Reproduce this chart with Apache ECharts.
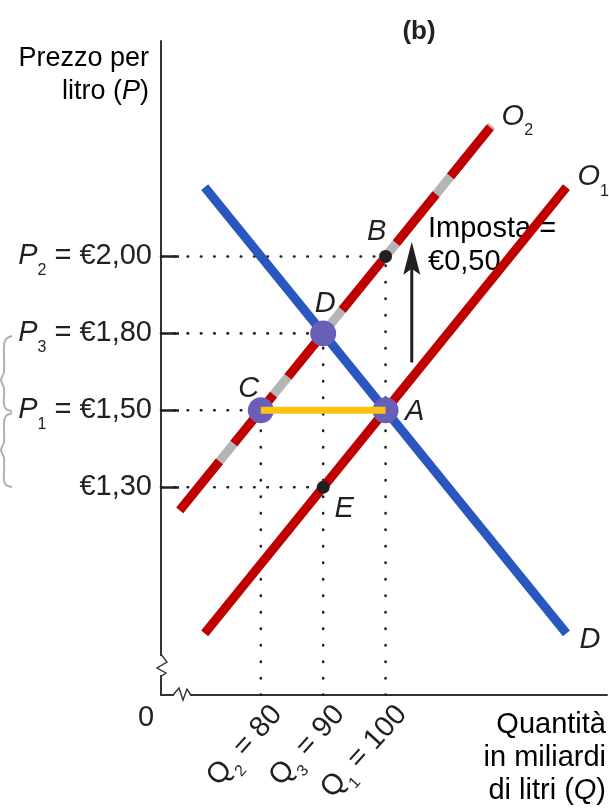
<!DOCTYPE html>
<html>
<head>
<meta charset="utf-8">
<script src="https://cdn.jsdelivr.net/npm/echarts@6/dist/echarts.min.js"></script>
<style>
  html, body { margin: 0; padding: 0; background: #fff; }
  #chart { width: 609px; height: 808px; }
</style>
</head>
<body>
<div id="chart"></div>
<script>
var FONT = '"Liberation Sans", Arial, sans-serif';
var FS = 29;

// quantità sull'asse x (miliardi di litri)
var qTicks = [80, 90, 100];
var qSubs = ['2', '3', '1'];

// il grafico non è in scala: ogni prezzo è un gradino sull'asse y
var priceLevels = [1, 2, 3, 4];
var priceSubs = ['', '1', '3', '2'];
var priceTexts = ['€1,30', '€1,50', '€1,80', '€2,00'];

// curve (quantità, gradino di prezzo)
var demandQ = [71, 129];
var demandP = [4.9, -0.9];
var supply1Q = [71, 129];
var supply1P = [-0.9, 4.9];
var supply2Q = [67, 117];
var supply2P = [0.7, 5.7];

// punti di equilibrio
var pointNames = ['A', 'B', 'C', 'D', 'E'];
var pointQ = [100, 100, 80, 90, 90];
var pointP = [2, 4, 2, 3, 1];

// freccia dell'imposta
var taxQ = [104.2, 104.2];
var taxP = [2.62, 4.19];

// linee punteggiate di riferimento
var hGuides = ['B', 'D', 'A', 'E'];
var vGuides = ['B', 'D', 'C'];

var X_MIN = 64, X_MAX = 135.5, Y_MIN = -1.7, Y_MAX = 6.8;

var pointStyle = {
    A: { big: true, offset: [29, 2] },
    B: { big: false, offset: [-9, -24] },
    C: { big: true, offset: [-12, -21] },
    D: { big: true, offset: [2, -29] },
    E: { big: false, offset: [21, 22] }
};

var chart = echarts.init(document.getElementById('chart'));

function pt(name) {
    var i = pointNames.indexOf(name);
    return [pointQ[i], pointP[i]];
}
function pairs(xs, ys) {
    return xs.map(function (x, i) { return [x, ys[i]]; });
}

var textColor = '#231f20';
var rich = {
    it: { fontFamily: FONT, fontSize: FS, fontStyle: 'italic', color: textColor },
    up: { fontFamily: FONT, fontSize: FS, color: textColor },
    sub: { fontFamily: FONT, fontSize: 16, color: textColor, padding: [28, 0, 0, 0] }
};

var series = [];

// linee di riferimento punteggiate
var dotStyle = { color: textColor, width: 2.6, cap: 'round' };
hGuides.forEach(function (n) {
    var p = pt(n);
    series.push({
        type: 'line', silent: true, showSymbol: false, z: 1,
        lineStyle: Object.assign({ type: [0.5, 12.8] }, dotStyle),
        data: [[X_MIN, p[1]], p]
    });
});
vGuides.forEach(function (n) {
    var p = pt(n);
    series.push({
        type: 'line', silent: true, showSymbol: false, z: 1,
        lineStyle: Object.assign({ type: [0.5, 16] }, dotStyle),
        data: [[p[0], Y_MIN], p]
    });
});

// domanda
series.push({
    type: 'line', showSymbol: false, z: 3,
    lineStyle: { color: '#2a56c0', width: 9 },
    data: pairs(demandQ, demandP),
    endLabel: { show: true, distance: 0, offset: [13, 6], formatter: '{it|D}', rich: rich }
});
// offerta O2: fondo grigio + rosso tratteggiato
series.push({
    type: 'line', showSymbol: false, z: 4,
    lineStyle: { color: '#b5b5b5', width: 9 },
    data: pairs(supply2Q, supply2P)
});
series.push({
    type: 'line', showSymbol: false, z: 4,
    lineStyle: { color: '#c00000', width: 9, type: [63, 23], cap: 'butt' },
    data: pairs(supply2Q, supply2P),
    endLabel: { show: true, distance: 0, offset: [10, -9], formatter: '{it|O}{sub|2}', rich: rich }
});
// offerta O1
series.push({
    type: 'line', showSymbol: false, z: 5,
    lineStyle: { color: '#c00000', width: 9 },
    data: pairs(supply1Q, supply1P),
    endLabel: { show: true, distance: 0, offset: [11, -10], formatter: '{it|O}{sub|1}', rich: rich }
});
// cuneo C-A
series.push({
    type: 'line', showSymbol: false, z: 7,
    lineStyle: { color: '#ffc20e', width: 7, cap: 'butt' },
    data: [pt('C'), pt('A')]
});
// punti
series.push({
    type: 'scatter', z: 6,
    data: pointNames.map(function (n, i) {
        var s = pointStyle[n];
        return {
            name: n,
            value: [pointQ[i], pointP[i]],
            symbolSize: s.big ? 26 : 13,
            itemStyle: { color: s.big ? '#6a5fb8' : textColor, opacity: 1 },
            label: { show: true, position: 'inside', offset: s.offset, formatter: '{it|' + n + '}', rich: rich }
        };
    })
});
// freccia
series.push({
    type: 'line', showSymbol: false, z: 6,
    lineStyle: { color: textColor, width: 3 },
    data: [[taxQ[0], taxP[0]], [taxQ[1], taxP[1] - 0.2]]
});
series.push({
    type: 'scatter', z: 6,
    symbol: 'path://M0,0 L8,32 L0,26 L-8,32 Z',
    symbolSize: [17, 33],
    symbolOffset: [0, '50%'],
    itemStyle: { color: textColor, opacity: 1 },
    data: [[taxQ[1], taxP[1]]]
});

function bigRich(size) {
    return {
        up: { fontFamily: FONT, fontSize: size, color: textColor, lineHeight: 33 },
        it: { fontFamily: FONT, fontSize: size, fontStyle: 'italic', color: textColor, lineHeight: 33 }
    };
}
var graphics = [
    { type: 'text', x: 419, y: 32, style: { text: '(b)', font: 'bold 26px ' + FONT, fill: textColor, align: 'center', verticalAlign: 'middle' } },
    { type: 'text', z: 0, x: 149, y: 42, style: {
        text: '{up|Prezzo per}\n{up|litro (}{it|P}{up|)}', align: 'right', rich: bigRich(27) } },
    { type: 'text', z: 0, x: 428, y: 212, style: {
        text: '{up|Imposta =}\n{up|€0,50}', rich: bigRich(FS) } },
    { type: 'text', x: 146, y: 718, style: { text: '0', font: FS + 'px ' + FONT, fill: textColor, align: 'center', verticalAlign: 'middle' } },
    { type: 'text', x: 606, y: 708, style: {
        text: '{up|Quantità}\n{up|in miliardi}\n{up|di litri (}{it|Q}{up|)}', align: 'right', rich: bigRich(FS) } },
    // graffe
    { type: 'polyline', shape: { points: [[12, 336], [6, 339], [4, 346], [4, 372], [1, 380], [4, 388], [4, 404], [6, 409], [12, 411]], smooth: 0.3 },
      style: { stroke: '#b0b0b0', lineWidth: 2, fill: null } },
    { type: 'polyline', shape: { points: [[12, 413], [6, 416], [4, 423], [4, 442], [1, 450], [4, 458], [4, 480], [6, 485], [12, 487]], smooth: 0.3 },
      style: { stroke: '#b0b0b0', lineWidth: 2, fill: null } },
    // interruzioni degli assi
    { type: 'rect', z: 10, shape: { x: 156, y: 656, width: 12, height: 19 }, style: { fill: '#fff' } },
    { type: 'polyline', z: 11, shape: { points: [[161.5, 655], [167, 662], [157, 668], [166, 673], [161.5, 676]] },
      style: { stroke: '#333', lineWidth: 1.4, fill: null } },
    { type: 'rect', z: 10, shape: { x: 174, y: 692, width: 16, height: 5 }, style: { fill: '#fff' } },
    { type: 'polyline', z: 11, shape: { points: [[173.5, 694.5], [179, 688], [183, 700], [187, 689], [190.5, 694.5]] },
      style: { stroke: '#333', lineWidth: 1.4, fill: null } }
];

chart.setOption({
    animation: false,
    grid: { left: 161, top: 41, right: 609 - 607, bottom: 808 - 695, outerBoundsMode: 'none', containLabel: false },
    xAxis: {
        type: 'value', min: X_MIN, max: X_MAX,
        splitLine: { show: false },
        axisLine: { onZero: false, lineStyle: { color: '#333', width: 2 } },
        axisTick: { show: false },
        axisLabel: {
            customValues: qTicks, rotate: 48, margin: 0, verticalAlign: 'top',
            formatter: function (v) {
                var i = qTicks.indexOf(v);
                return '{up|Q}{sub|' + qSubs[i] + '}{up| = ' + v + '}';
            },
            rich: rich
        }
    },
    yAxis: {
        type: 'value', min: Y_MIN, max: Y_MAX,
        splitLine: { show: false },
        axisLine: { onZero: false, lineStyle: { color: '#333', width: 2 } },
        axisTick: { customValues: priceLevels, inside: true, length: 18, lineStyle: { color: textColor, width: 2.5 } },
        axisLabel: {
            customValues: priceLevels, margin: 9,
            formatter: function (v) {
                var i = priceLevels.indexOf(v);
                if (!priceSubs[i]) return '{up|' + priceTexts[i] + '}';
                return '{it|P}{sub|' + priceSubs[i] + '}{up| = ' + priceTexts[i] + '}';
            },
            rich: rich
        }
    },
    series: series,
    graphic: graphics
});
</script>
</body>
</html>
